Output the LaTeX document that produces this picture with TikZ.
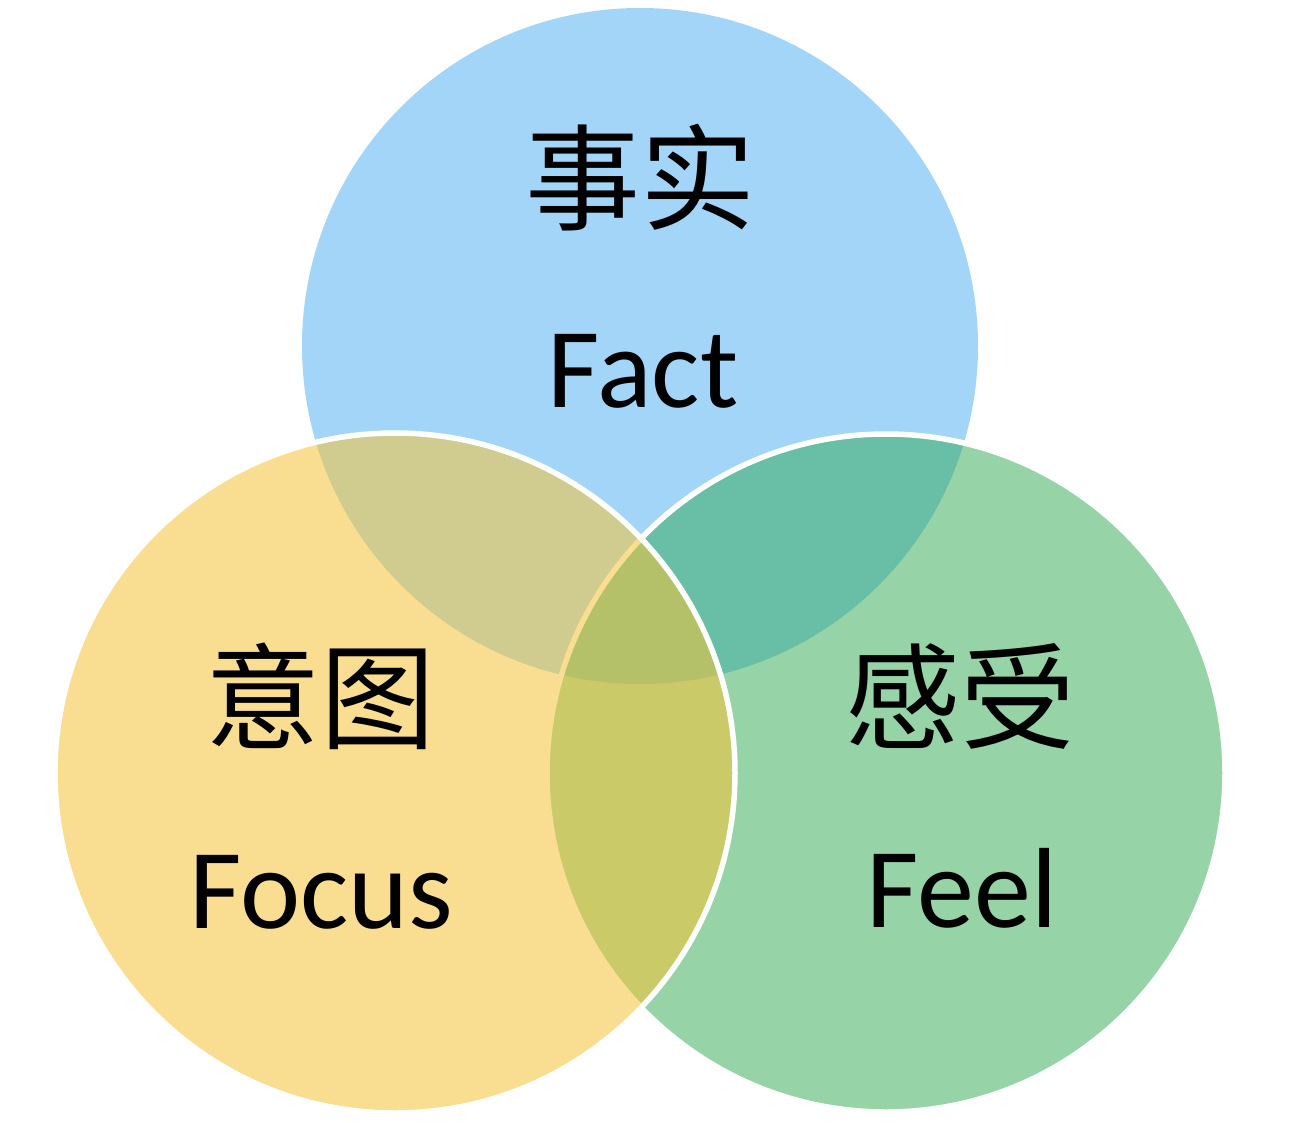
\documentclass[tikz,border=0pt]{standalone}
\usepackage{fontspec}
\setmainfont{Carlito}
\newfontfamily\cjk{Noto Sans CJK SC}
\definecolor{cblue}{RGB}{163,213,248}
\definecolor{cgreen}{RGB}{47,171,83}
\definecolor{cyellow}{RGB}{245,195,55}
\begin{document}
\begin{tikzpicture}[x=1pt,y=-1pt,
  circ/.style={draw=white,line width=5.5pt},
  zh/.style={font=\cjk\fontsize{115}{115}\selectfont,inner sep=0pt,anchor=base},
  en/.style={font=\fontsize{114}{114}\selectfont,inner sep=0pt,anchor=base}]
\useasboundingbox[fill=white] (0,0) rectangle (1304,1122);
% circles: blue, then green, then yellow on top
\fill[cblue] (640,346) circle[radius=338];
\path[circ,fill=cgreen,fill opacity=0.5] (886,773) circle[radius=339];
\path[circ,fill=cyellow,fill opacity=0.55] (395,773) circle[radius=340];
% labels
\node[zh] (zfact) at (640,221) {事实};
\node[en] (efact) at (643,407) {Fact};
\node[zh] (zfocus) at (320,740) {意图};
\node[en] (efocus) at (321,928) {Focus};
\node[zh] (zfeel) at (960,740) {感受};
\node[en] (efeel) at (962,927) {Feel};
\end{tikzpicture}
\end{document}
